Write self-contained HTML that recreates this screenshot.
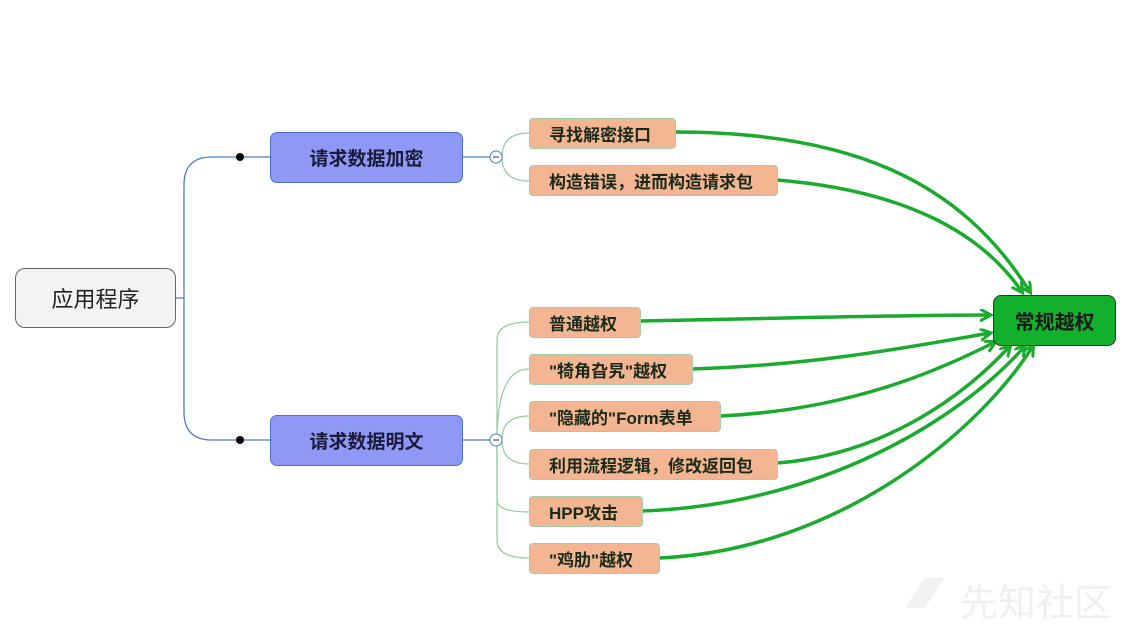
<!DOCTYPE html>
<html><head><meta charset="utf-8"><style>
body{margin:0;width:1148px;height:624px;background:#fff;overflow:hidden;position:relative;font-family:"Liberation Sans","Noto Sans CJK SC",sans-serif}
.n{position:absolute;box-sizing:border-box;display:flex;align-items:center;justify-content:center;white-space:nowrap}
.root{left:15px;top:268px;width:161px;height:60px;background:#f3f3f3;border:1px solid #666;border-radius:10px;font-size:22px;color:#222}
.b{left:270px;width:193px;height:51px;background:#9098f5;border:1px solid #4a6fd0;border-radius:7px;font-size:19px;font-weight:bold;color:#1a1a3a}
.o{left:529px;height:31px;background:#f4b593;border:1px solid #9fd0a8;border-radius:4px;font-size:17px;font-weight:bold;color:#1a2a1a;justify-content:flex-start;padding-left:19px}
.t{left:993px;top:295px;width:123px;height:51px;background:#13b02e;border:1px solid #333;border-radius:8px;font-size:20px;font-weight:bold;color:#1a1a1a}
.wm{position:absolute;left:960px;top:572px;font-size:38px;color:#f0f0f0}
</style></head><body>
<svg width="1148" height="624" style="position:absolute;left:0;top:0">
<defs><marker id="a" markerWidth="14" markerHeight="14" refX="10" refY="6" orient="auto" markerUnits="userSpaceOnUse"><path d="M0,0 L11,6 L0,12" fill="none" stroke="#1aaa2e" stroke-width="3"/></marker></defs>
<g fill="none" stroke="#4a7fc0" stroke-width="1.3">
<path d="M176,298 H184"/>
<path d="M184,298 V185 Q184,157 212,157 H270"/>
<path d="M184,298 V412 Q184,440 212,440 H270"/>
<path d="M463,157 H490"/><path d="M463,440 H490"/>
</g>
<circle cx="240" cy="157" r="4" fill="#000"/><circle cx="240" cy="440" r="4" fill="#000"/>
<g fill="none" stroke="#8fcc9f" stroke-width="1.2">
<path d="M502,157 Q502,133 529,133"/><path d="M502,157 Q502,181 529,181"/>
<path d="M497,440 V340 Q497,322 529,322"/>
<path d="M497,440 Q497,369 529,369"/>
<path d="M502,440 Q502,416 529,416"/>
<path d="M502,440 Q502,464 529,464"/>
<path d="M497,440 V500 Q497,512 529,512"/>
<path d="M497,440 V540 Q497,558 529,558"/>
</g>
<g fill="#fff" stroke="#4a7fc0" stroke-width="1"><circle cx="496" cy="157" r="6"/><circle cx="496" cy="440" r="6"/></g>
<path d="M493,157 H499 M493,440 H499" stroke="#333" stroke-width="1"/>
<g fill="none" stroke="#1aaa2e" stroke-width="3.5" marker-end="url(#a)">
<path d="M675,132 C850,132 960,180 1030,292"/>
<path d="M777,180 C900,190 980,230 1022,292"/>
<path d="M640,321 C800,318 900,315 990,315"/>
<path d="M692,369 C820,365 920,345 990,333"/>
<path d="M720,416 C850,410 940,370 995,342"/>
<path d="M777,463 C880,455 960,400 1010,346"/>
<path d="M642,511 C820,505 960,420 1025,346"/>
<path d="M659,558 C840,550 980,430 1033,346"/>
</g>
<path d="M925,578 L945,578 L925,608 L905,608 Z" fill="#f2f2f2"/>
</svg>
<div class="n root">应用程序</div>
<div class="n b" style="top:132px">请求数据加密</div>
<div class="n b" style="top:415px">请求数据明文</div>
<div class="n o" style="top:118px;width:147px">寻找解密接口</div>
<div class="n o" style="top:165px;width:249px">构造错误，进而构造请求包</div>
<div class="n o" style="top:307px;width:112px">普通越权</div>
<div class="n o" style="top:354px;width:164px">"犄角旮旯"越权</div>
<div class="n o" style="top:401px;width:192px">"隐藏的"Form表单</div>
<div class="n o" style="top:449px;width:249px">利用流程逻辑，修改返回包</div>
<div class="n o" style="top:496px;width:114px">HPP攻击</div>
<div class="n o" style="top:543px;width:131px">"鸡肋"越权</div>
<div class="n t">常规越权</div>
<div class="wm">先知社区</div>
</body></html>
